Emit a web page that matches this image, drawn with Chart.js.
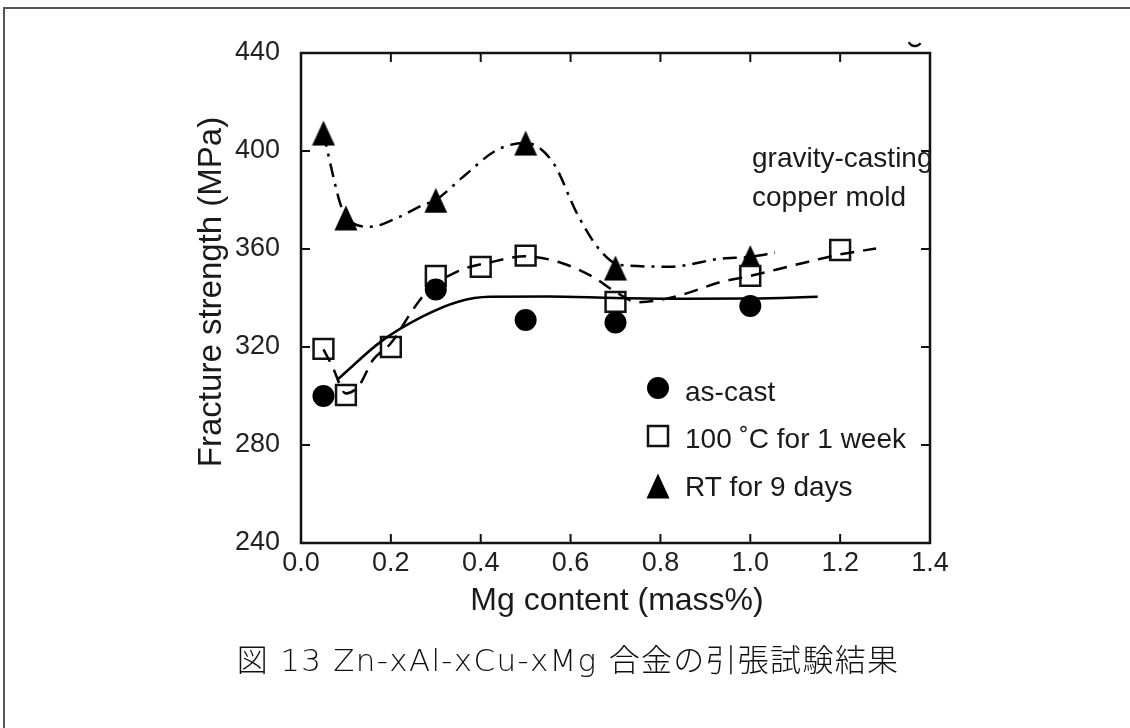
<!DOCTYPE html>
<html><head><meta charset="utf-8">
<script src="https://cdn.jsdelivr.net/npm/chart.js@4.4.1/dist/chart.umd.min.js"></script>
<style>
html,body{margin:0;padding:0;background:#fff;overflow:hidden;width:1130px;height:728px;}
#frame{position:absolute;left:3px;top:7px;width:1200px;height:800px;border:2px solid #555;box-sizing:border-box;}
#wrap{position:absolute;left:0;top:0;width:1130px;height:728px;}
</style></head><body>
<div id="frame"></div>
<div id="wrap"><canvas id="c" width="1130" height="728"></canvas></div>
<script>
// ---- data ----
const xTickValues = [0, 0.2, 0.4, 0.6, 0.8, 1.0, 1.2, 1.4];
const yTickValues = [240, 280, 320, 360, 400, 440];

const asCastX = [0.05, 0.3, 0.5, 0.7, 1.0];
const asCastY = [300, 343.5, 331, 330, 336.7];

const week100X = [0.05, 0.1, 0.2, 0.3, 0.4, 0.5, 0.7, 1.0, 1.2];
const week100Y = [319.2, 300.4, 320, 349, 352.7, 357.3, 338.4, 349, 359.6];

const rt9X = [0.05, 0.1, 0.3, 0.5, 0.7, 1.0];
const rt9Y = [407.3, 372.7, 379.8, 403.2, 352.2, 356.5];

// fitted guide curves
const asCastFitX = [0.083, 0.18, 0.27, 0.35, 0.42, 0.55, 0.7, 0.85, 1.0, 1.15];
const asCastFitY = [307, 322.5, 332.4, 338.5, 340.5, 340.6, 340, 339.7, 339.8, 340.5];

const week100FitX = [0.05, 0.07, 0.1, 0.13, 0.16, 0.2, 0.25, 0.28, 0.35, 0.42, 0.5, 0.58, 0.65, 0.7, 0.75, 0.8, 0.86, 0.93, 1.0, 1.1, 1.2, 1.28];
const week100FitY = [319, 312, 301, 304.5, 314.7, 321.5, 335.5, 342.6, 351, 354.5, 357, 354.3, 348.6, 342.5, 338.3, 339.2, 342, 346.3, 349, 353.5, 357.8, 360.2];

const rt9FitX = [0.05, 0.072, 0.087, 0.1, 0.154, 0.22, 0.272, 0.3, 0.361, 0.436, 0.5, 0.562, 0.614, 0.665, 0.71, 0.821, 0.933, 1.0, 1.055];
const rt9FitY = [407.3, 389.5, 378.7, 373, 369.1, 373.2, 378, 380, 389.5, 400.4, 403.3, 395, 374.6, 359.6, 353.5, 352.8, 356, 356.8, 358.5];

const legendLabels = ['as-cast', '100 \u02DAC for 1 week', 'RT for 9 days'];
const noteLines = ['gravity-casting', 'copper mold'];
const xTitle = 'Mg content (mass%)';
const yTitle = 'Fracture strength (MPa)';
const caption = '図 13 Zn-xAl-xCu-xMg 合金の引張試験結果';

const zip = (xs, ys) => xs.map((v, i) => ({x: v, y: ys[i]}));

// triangle marker image
const tri = document.createElement('canvas');
tri.width = 24; tri.height = 26;
(function(){ const c = tri.getContext('2d'); c.fillStyle = '#000'; c.beginPath();
  c.moveTo(12, 0.5); c.lineTo(23.5, 25.5); c.lineTo(0.5, 25.5); c.closePath(); c.fill(); })();

const FONT = '"Liberation Sans", Arial, sans-serif';

const deco = {
  id: 'deco',
  afterDraw(chart) {
    const {ctx, chartArea: a, scales: {x, y}} = chart;
    ctx.save();
    ctx.strokeStyle = '#111';
    ctx.lineWidth = 2.5;
    ctx.strokeRect(a.left, a.top, a.right - a.left, a.bottom - a.top);
    ctx.lineWidth = 2;
    ctx.beginPath();
    xTickValues.forEach(v => { const p = x.getPixelForValue(v);
      ctx.moveTo(p, a.bottom); ctx.lineTo(p, a.bottom - 9);
      ctx.moveTo(p, a.top); ctx.lineTo(p, a.top + 9); });
    yTickValues.forEach(v => { const p = y.getPixelForValue(v);
      ctx.moveTo(a.left, p); ctx.lineTo(a.left + 9, p);
      ctx.moveTo(a.right, p); ctx.lineTo(a.right - 9, p); });
    ctx.stroke();

    // small cropped fragment above the frame
    ctx.lineWidth = 2.5;
    ctx.beginPath(); ctx.arc(915, 39, 7, 0.2 * Math.PI, 0.85 * Math.PI); ctx.stroke();

    ctx.fillStyle = '#1a1a1a';
    // annotation
    ctx.font = '28px ' + FONT;
    ctx.textAlign = 'left'; ctx.textBaseline = 'alphabetic';
    ctx.fillText(noteLines[0], 752, 167);
    ctx.fillText(noteLines[1], 752, 206);

    // legend
    const lx = 658, mk = [388, 436, 486], ty = [401, 448, 496];
    ctx.fillStyle = '#000';
    ctx.beginPath(); ctx.arc(lx, mk[0], 11, 0, 2 * Math.PI); ctx.fill();
    ctx.fillStyle = '#fff'; ctx.fillRect(lx - 10, mk[1] - 10, 20, 20);
    ctx.strokeStyle = '#111'; ctx.lineWidth = 2.5; ctx.strokeRect(lx - 10, mk[1] - 10, 20, 20);
    ctx.drawImage(tri, lx - 12, mk[2] - 13);
    ctx.fillStyle = '#1a1a1a';
    ctx.font = '28px ' + FONT;
    legendLabels.forEach((t, i) => ctx.fillText(t, 685, ty[i]));

    // axis titles
    ctx.font = '32px ' + FONT;
    ctx.textAlign = 'center';
    ctx.fillText(xTitle, 617, 610);
    ctx.save();
    ctx.translate(221, 292); ctx.rotate(-Math.PI / 2);
    ctx.font = '33px ' + FONT;
    ctx.fillText(yTitle, 0, 0);
    ctx.restore();

    // caption
    ctx.font = '300 31px "DejaVu Sans", "Noto Sans CJK JP", sans-serif';
    try { ctx.letterSpacing = '1.3px'; } catch (e) {}
    ctx.textBaseline = 'middle';
    ctx.fillStyle = '#111';
    ctx.fillText(caption, 568, 663);
    ctx.restore();
  }
};

new Chart(document.getElementById('c'), {
  type: 'line',
  data: {
    datasets: [
      { label: legendLabels[0], data: zip(asCastX, asCastY), showLine: false, order: 0,
        pointStyle: 'circle', pointRadius: 11, pointBackgroundColor: '#000', pointBorderColor: '#000', pointBorderWidth: 0 },
      { label: 'fitA', data: zip(asCastFitX, asCastFitY), order: 1, borderColor: '#000', borderWidth: 2.5,
        pointRadius: 0, cubicInterpolationMode: 'monotone', fill: false },
      { label: 'fitB', data: zip(week100FitX, week100FitY), order: 2, borderColor: '#000', borderWidth: 2.5,
        borderDash: [14, 9], pointRadius: 0, cubicInterpolationMode: 'monotone', fill: false },
      { label: 'fitC', data: zip(rt9FitX, rt9FitY), order: 3, borderColor: '#000', borderWidth: 2.5,
        borderDash: [14, 7, 3, 7], pointRadius: 0, cubicInterpolationMode: 'monotone', fill: false },
      { label: legendLabels[1], data: zip(week100X, week100Y), showLine: false, order: 4,
        pointStyle: 'rect', pointRadius: 14, pointBackgroundColor: '#fff', pointBorderColor: '#111', pointBorderWidth: 2.5 },
      { label: legendLabels[2], data: zip(rt9X, rt9Y), showLine: false, order: 5,
        pointStyle: tri, pointRadius: 13 }
    ]
  },
  options: {
    responsive: false,
    animation: false,
    events: [],
    layout: { padding: { left: 0, top: 53, right: 200, bottom: 0 } },
    plugins: { legend: { display: false }, tooltip: { enabled: false } },
    scales: {
      x: {
        type: 'linear', min: 0, max: 1.4,
        afterBuildTicks: s => { s.ticks = xTickValues.map(v => ({value: v})); },
        afterFit: s => { s.height = 185; },
        grid: { display: false, drawTicks: false }, border: { display: false },
        ticks: { padding: 4, color: '#222', font: { family: FONT, size: 27 }, callback: v => Number(v).toFixed(1), maxRotation: 0, autoSkip: false }
      },
      y: {
        type: 'linear', min: 240, max: 440,
        afterBuildTicks: s => { s.ticks = yTickValues.map(v => ({value: v})); },
        afterFit: s => { s.width = 301; },
        grid: { display: false, drawTicks: false }, border: { display: false },
        ticks: { padding: 21, color: '#222', font: { family: FONT, size: 27 }, callback: v => String(v), autoSkip: false }
      }
    }
  },
  plugins: [deco]
});
</script>
</body></html>
